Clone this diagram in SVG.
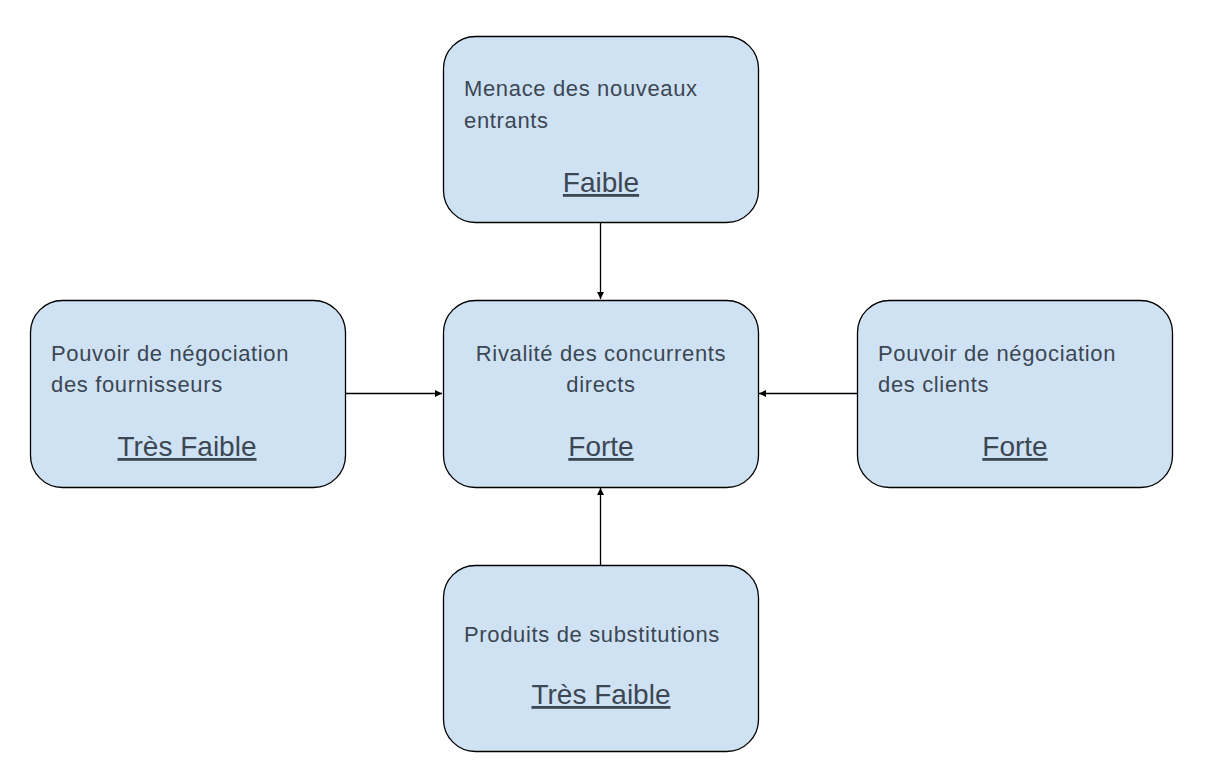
<svg xmlns="http://www.w3.org/2000/svg" width="1223" height="766" viewBox="0 0 1223 766">
<defs>
<style>
.box{fill:#cfe2f3;stroke:#000;stroke-width:1.3}
.t{font-family:"Liberation Sans",Arial,sans-serif;font-size:22px;fill:#3c4753;letter-spacing:0.65px}
.b{font-family:"Liberation Sans",Arial,sans-serif;font-size:28px;fill:#3c4753;text-decoration:underline;text-anchor:middle}
.c{text-anchor:middle}
.ln{stroke:#000;stroke-width:1.3;fill:none}
</style>
<marker id="ah" viewBox="0 0 10 10" refX="10" refY="5" markerWidth="7" markerHeight="7" markerUnits="userSpaceOnUse" orient="auto">
<path d="M0,0 L10,5 L0,10 z" fill="#000"/>
</marker>
</defs>
<rect width="1223" height="766" fill="#fff"/>
<g id="connectors">
<line class="ln" x1="600.5" y1="222" x2="600.5" y2="299" marker-end="url(#ah)"/>
<line class="ln" x1="345" y1="393.5" x2="442" y2="393.5" marker-end="url(#ah)"/>
<line class="ln" x1="857" y1="393.5" x2="759" y2="393.5" marker-end="url(#ah)"/>
<line class="ln" x1="600.5" y1="565" x2="600.5" y2="488" marker-end="url(#ah)"/>
</g>
<g id="node-top">
<rect class="box" x="443.5" y="36.5" width="315" height="186" rx="32"/>
<text class="t" x="464" y="96">Menace des nouveaux</text>
<text class="t" x="464" y="128">entrants</text>
<text class="b" x="601" y="192">Faible</text>
</g>
<g id="node-center">
<rect class="box" x="443.5" y="300.5" width="315" height="187" rx="32"/>
<text class="t c" x="601" y="361">Rivalité des concurrents</text>
<text class="t c" x="601" y="392">directs</text>
<text class="b" x="601" y="456">Forte</text>
</g>
<g id="node-left">
<rect class="box" x="30.5" y="300.5" width="315" height="187" rx="32"/>
<text class="t" x="51" y="361">Pouvoir de négociation</text>
<text class="t" x="51" y="392">des fournisseurs</text>
<text class="b" x="187" y="456">Très Faible</text>
</g>
<g id="node-right">
<rect class="box" x="857.5" y="300.5" width="315" height="187" rx="32"/>
<text class="t" x="878" y="361">Pouvoir de négociation</text>
<text class="t" x="878" y="392">des clients</text>
<text class="b" x="1015" y="456">Forte</text>
</g>
<g id="node-bottom">
<rect class="box" x="443.5" y="565.5" width="315" height="186" rx="32"/>
<text class="t" x="464" y="642">Produits de substitutions</text>
<text class="b" x="601" y="704">Très Faible</text>
</g>
</svg>
